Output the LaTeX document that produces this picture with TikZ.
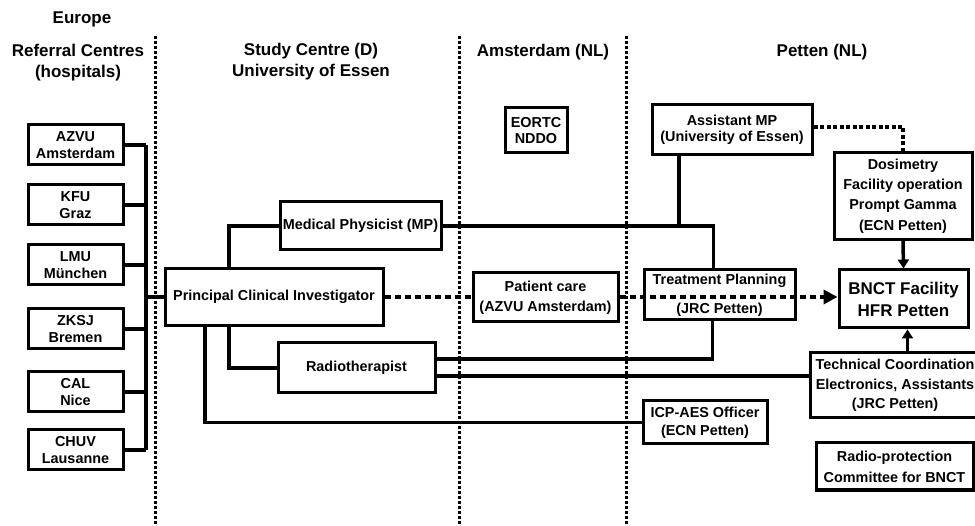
\documentclass[tikz,border=0pt]{standalone}
\usepackage{fontspec}
\setmainfont{Liberation Sans}
\usetikzlibrary{arrows.meta}
\tikzset{
  box/.style={draw, line width=3pt, align=center, inner sep=0pt, font=\fontsize{14.4}{16.5}\selectfont\bfseries},
  head/.style={align=center, font=\fontsize{17}{21}\selectfont\bfseries},
  link/.style={line width=3.5pt},
  dotlink/.style={line width=4.5pt, dash pattern=on 6pt off 4pt},
  finedot/.style={line width=3.5pt, dash pattern=on 4pt off 2.5pt},
  border/.style={line width=3pt, dash pattern=on 3pt off 2pt},
}
\begin{document}
\begin{tikzpicture}[x=1pt,y=-1pt]
            \useasboundingbox (0,0) rectangle (975,526);
            \node[head] (europe) at (82,19) {Europe};
            \node[head] (refhead) at (78,63) {Referral Centres\\(hospitals)};
            \node[head] (studyhead) at (311,62) {Study Centre (D)\\University of Essen};
            \node[head] (amshead) at (543,52) {Amsterdam (NL)};
            \node[head] (pethead) at (822,52) {Petten (NL)};
            \foreach \dx [count=\i] in {155,459,626} {
              \coordinate (div\i top) at (\dx,36);
              \coordinate (div\i bot) at (\dx,526);
              \draw[border] (div\i top) -- (div\i bot);
            }
            \node[box,minimum width=95pt,minimum height=40pt] (azvu) at (75.5,145) {AZVU\\Amsterdam};
            \node[box,minimum width=95pt,minimum height=40pt] (kfu) at (75.5,205) {KFU\\Graz};
            \node[box,minimum width=95pt,minimum height=40pt] (lmu) at (75.5,265) {LMU\\München};
            \node[box,minimum width=95pt,minimum height=40pt] (zksj) at (75.5,329) {ZKSJ\\Bremen};
            \node[box,minimum width=95pt,minimum height=40pt] (cal) at (75.5,392) {CAL\\Nice};
            \node[box,minimum width=95pt,minimum height=40pt] (chuv) at (75.5,450) {CHUV\\Lausanne};
            \node[box,minimum width=218pt,minimum height=57pt] (pci) at (274,297) {Principal Clinical Investigator};
            \node[box,minimum width=161pt,minimum height=48pt] (mp) at (360.5,226) {Medical Physicist (MP)};
            \node[box,minimum width=157pt,minimum height=50pt] (radio) at (356.5,368) {Radiotherapist};
            \node[box,minimum width=62pt,minimum height=45pt] (eortc) at (536,130.5) {EORTC\\NDDO};
            \node[box,minimum width=145pt,minimum height=49pt] (pc) at (545.5,297.5) {Patient care\\[3.5pt](AZVU Amsterdam)};
            \node[box,minimum width=160pt,minimum height=50pt] (amp) at (732,130) {Assistant MP\\(University of Essen)};
            \node[box,minimum width=151pt,minimum height=50pt] (tp) at (719.5,295) {Treatment Planning\\[12.5pt](JRC Petten)};
            \node[box,minimum width=124pt,minimum height=43pt] (icp) at (705,422.5) {ICP-AES Officer\\[1.5pt](ECN Petten)};
            \node[box,minimum width=138pt,minimum height=87pt] (dosi) at (903,196) {Dosimetry\\[3.5pt]Facility operation\\[3.5pt]Prompt Gamma\\[4.5pt](ECN Petten)};
            \node[box,minimum width=129pt,minimum height=58pt,font=\fontsize{17}{22}\selectfont\bfseries] (bnct) at (903.5,299) {BNCT Facility\\HFR Petten};
            \node[box,minimum width=170pt,minimum height=65pt] (tech) at (895,385.5) {Technical Coordination\\[3.5pt]Electronics, Assistants\\[2pt](JRC Petten)};
            \node[box,minimum width=157pt,minimum height=47pt] (rp) at (894.5,466.5) {Radio-protection\\[4.5pt]Committee for BNCT};
            \coordinate (bus) at (146,0);
            \foreach \c in {azvu,kfu,lmu,zksj,cal,chuv}
              \draw[link] (\c.east) -- (\c.east -| bus);
            \draw[link] (azvu.east -| bus) -- (chuv.east -| bus);
            \draw[link] (pci.west) -- (pci.west -| bus);
            \draw[link] ([xshift=-45pt]pci.north) |- (mp.west);
            \draw[link] ([xshift=-45pt]pci.south) |- (radio.west);
            \draw[link] ([xshift=-69pt]pci.south) |- (icp.west);
            \draw[link] (mp.east) -| ([xshift=-6pt]tp.north);
            \draw[link] ([xshift=-53pt]amp.south) -- ([xshift=-53pt]amp.south |- mp.east);
            \draw[link] ([yshift=9pt]radio.east) -| ([xshift=-7pt]tp.south);
            \draw[link] ([yshift=-8pt]radio.east) -- ([yshift=-8pt]radio.east -| tech.west);
            \draw[dotlink] (pci.east) -- (pci.east -| pc.west);
            \draw[dotlink,-{Triangle[length=14pt,width=14pt]}] (pc.east |- pci.east) -- (bnct.west |- pci.east);
            \draw[finedot] ([yshift=3pt]amp.east) -| (dosi.north);
            \draw[link,-{Triangle[length=9pt,width=11pt]}] (dosi.south) -- (bnct.north);
            \draw[link,-{Triangle[length=9pt,width=11pt]}] ([xshift=4pt]bnct.south |- tech.north) -- ([xshift=4pt]bnct.south);
        \end{tikzpicture}
\end{document}
